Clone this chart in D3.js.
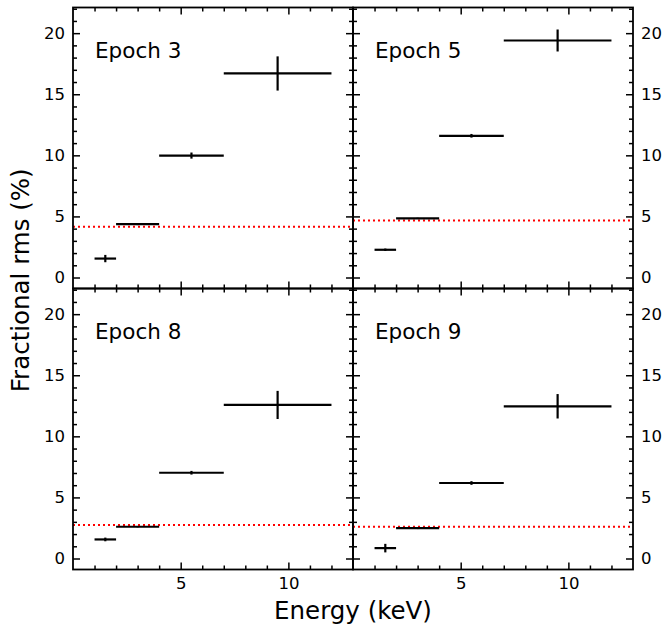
<!DOCTYPE html>
<html lang="en">
<head>
  <meta charset="UTF-8">
  <title>Fractional rms vs energy</title>
  <script src="https://d3js.org/d3.v7.min.js"></script>
  <style>
    body {
      margin: 0;
      background: #fff;
    }
    svg text {
      font-family: "DejaVu Sans", sans-serif;
      fill: #000;
    }
  </style>
</head>
<body>
  <svg id="chart" width="665" height="627"></svg>

  <script>
    // energy bins (keV)
    const binLo = [1, 2, 4, 7];
    const binHi = [2, 4, 7, 12];
    const binMid = [1.5, 3, 5.5, 9.5];

    const epochNames = ["Epoch 3", "Epoch 5", "Epoch 8", "Epoch 9"];

    // fractional rms (%) and 1-sigma errors, per epoch
    const rmsEpoch3 = [1.55, 4.37, 9.98, 16.7];
    const errEpoch3 = [0.3, 0.08, 0.25, 1.4];
    const rmsEpoch5 = [2.27, 4.84, 11.6, 19.4];
    const errEpoch5 = [0.1, 0.05, 0.15, 0.9];
    const rmsEpoch8 = [1.56, 2.6, 7.02, 12.57];
    const errEpoch8 = [0.15, 0.05, 0.15, 1.15];
    const rmsEpoch9 = [0.85, 2.49, 6.18, 12.46];
    const errEpoch9 = [0.35, 0.08, 0.15, 1.0];

    // broadband rms level (red dotted line)
    const bandRms = [4.15, 4.67, 2.74, 2.6];

    const yTicks = [0, 5, 10, 15, 20];
    const xTicks = [5, 10];

    const rmsAll = [rmsEpoch3, rmsEpoch5, rmsEpoch8, rmsEpoch9];
    const errAll = [errEpoch3, errEpoch5, errEpoch8, errEpoch9];

    const svg = d3.select("#chart");

    const padLeft = 73, padMid = 353, padRight = 633;
    const padTop = 7.5, padMidY = 288.5, padBottom = 569;
    const pw = padMid - padLeft, ph = padMidY - padTop;

    const x = d3.scaleLinear().domain([0, 13]).range([0, pw]);
    const y = d3.scaleLinear().domain([-0.9, 22.1]).range([ph, 0]);

    const majorLen = 7, minorLen = 4;
    const minorX = d3.range(1, 13).filter(v => v % 5 !== 0);
    const minorY = d3.range(0, 23).filter(v => v % 5 !== 0);

    function drawAxis(g, axisFn, scale, major, minor, showLabels, transform) {
      g.append("g")
        .attr("transform", transform)
        .call(axisFn(scale).tickValues(minor).tickSize(-minorLen).tickFormat(""))
        .call(a => a.select(".domain").remove())
        .call(a => a.selectAll("line").attr("stroke-width", 1.5));
      g.append("g")
        .attr("transform", transform)
        .call(axisFn(scale).tickValues(major).tickSize(-majorLen).tickPadding(8)
          .tickFormat(showLabels ? d3.format("d") : ""))
        .call(a => a.select(".domain").remove())
        .call(a => a.selectAll("line").attr("stroke-width", 1.5))
        .call(a => a.selectAll("text")
          .style("font-family", "'DejaVu Sans', sans-serif")
          .style("font-size", "16.5px"));
    }

    epochNames.forEach((name, i) => {
      const col = i % 2, row = Math.floor(i / 2);
      const ox = col === 0 ? padLeft : padMid;
      const oy = row === 0 ? padTop : padMidY;
      const g = svg.append("g").attr("transform", `translate(${ox},${oy})`);

      // ticks on all four sides, pointing in
      drawAxis(g, d3.axisLeft, y, yTicks, minorY, col === 0, "translate(0,0)");
      drawAxis(g, d3.axisRight, y, yTicks, minorY, col === 1, `translate(${pw},0)`);
      drawAxis(g, d3.axisTop, x, xTicks, minorX, false, "translate(0,0)");
      drawAxis(g, d3.axisBottom, x, xTicks, minorX, row === 1, `translate(0,${ph})`);

      // broadband level
      g.append("line")
        .attr("x1", 0).attr("x2", pw)
        .attr("y1", y(bandRms[i])).attr("y2", y(bandRms[i]))
        .attr("stroke", "#ff0000")
        .attr("stroke-width", 2)
        .attr("stroke-dasharray", "2,3");

      const pts = binMid.map((m, j) => ({
        lo: binLo[j], hi: binHi[j], mid: m, v: rmsAll[i][j], e: errAll[i][j]
      }));

      g.selectAll(".xerr")
        .data(pts)
        .enter()
        .append("line")
        .attr("x1", d => x(d.lo)).attr("x2", d => x(d.hi))
        .attr("y1", d => y(d.v)).attr("y2", d => y(d.v))
        .attr("stroke", "#000").attr("stroke-width", 2.2);

      g.selectAll(".yerr")
        .data(pts)
        .enter()
        .append("line")
        .attr("x1", d => x(d.mid)).attr("x2", d => x(d.mid))
        .attr("y1", d => y(d.v - d.e)).attr("y2", d => y(d.v + d.e))
        .attr("stroke", "#000").attr("stroke-width", 2.2);

      g.append("text")
        .attr("x", 22)
        .attr("y", 50)
        .style("font-size", "21.5px")
        .text(name);

      g.append("rect")
        .attr("width", pw).attr("height", ph)
        .attr("fill", "none")
        .attr("stroke", "#000")
        .attr("stroke-width", 1.8);
    });

    svg.append("text")
      .attr("x", (padLeft + padRight) / 2)
      .attr("y", 619)
      .attr("text-anchor", "middle")
      .style("font-size", "24.5px")
      .text("Energy (keV)");

    svg.append("text")
      .attr("transform", `translate(29,${(padTop + padBottom) / 2 - 8}) rotate(-90)`)
      .attr("text-anchor", "middle")
      .style("font-size", "24.5px")
      .text("Fractional rms (%)");
  </script>
</body>
</html>
